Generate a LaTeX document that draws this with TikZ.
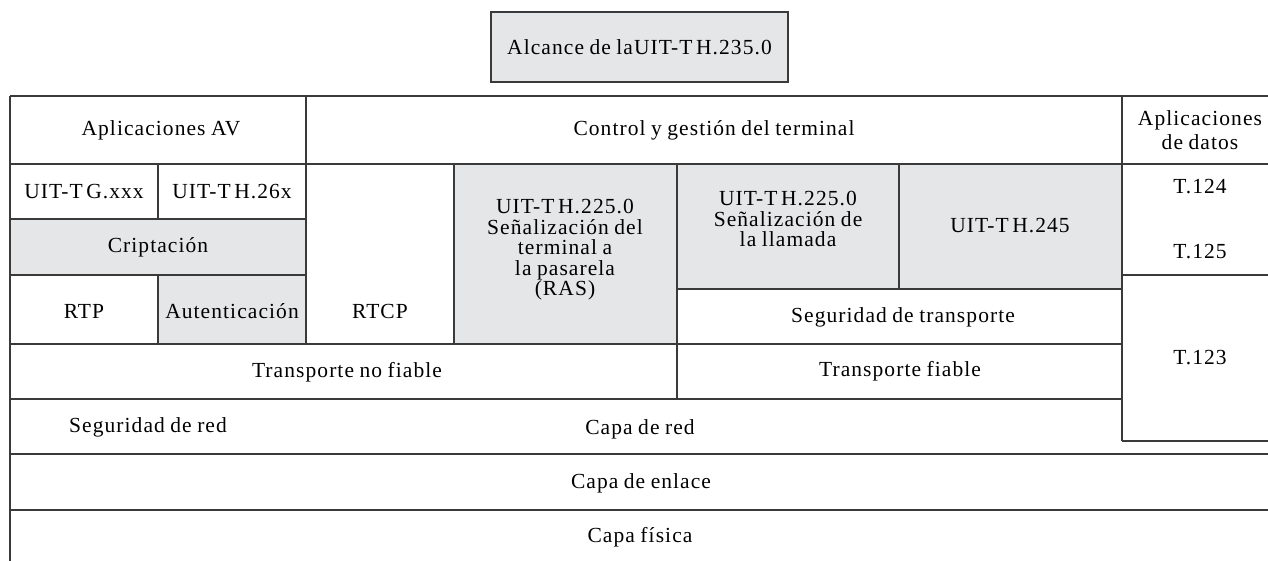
\documentclass[tikz,border=0pt]{standalone}
\usepackage{fontspec}
\setmainfont{Liberation Serif}[LetterSpace=5,WordSpace=0.85]
\definecolor{cellgray}{HTML}{E5E6E8}
\definecolor{linec}{HTML}{3A3A3A}
\begin{document}
\begin{tikzpicture}[x=1pt,y=-1pt,
  rule/.style={draw=linec,line width=1.2pt},
  lbl/.style={inner sep=0pt,align=center,font=\fontsize{21.5}{20.5}\selectfont,text=black},
  shade/.style={fill=cellgray}]
\useasboundingbox (0,0) rectangle (1268,561);
\clip (0,0) rectangle (1268,561);
% fills
\fill[shade] (491,12) rectangle (788,82);
\fill[shade] (10,219) rectangle (306,275);
\fill[shade] (158,275) rectangle (306,344);
\fill[shade] (454,164) rectangle (677,344);
\fill[shade] (677,164) rectangle (899,289);
\fill[shade] (899,164) rectangle (1122,289);
% lines
\draw[rule] (491,12) rectangle (788,82);
\draw[rule] (10,96) -- (1280,96);
\draw[rule] (10,164) -- (1280,164);
\draw[rule] (10,219) -- (306,219);
\draw[rule] (10,275) -- (306,275);
\draw[rule] (1122,275) -- (1280,275);
\draw[rule] (677,289) -- (1122,289);
\draw[rule] (10,344) -- (1122,344);
\draw[rule] (10,399) -- (1122,399);
\draw[rule] (1122,441) -- (1280,441);
\draw[rule] (10,454) -- (1280,454);
\draw[rule] (10,510) -- (1280,510);
\draw[rule] (10,96) -- (10,570);
\draw[rule] (306,96) -- (306,344);
\draw[rule] (158,164) -- (158,219);
\draw[rule] (158,275) -- (158,344);
\draw[rule] (454,164) -- (454,344);
\draw[rule] (677,164) -- (677,399);
\draw[rule] (899,164) -- (899,289);
\draw[rule] (1122,96) -- (1122,441);
% texts
\node[lbl] (scope) at (639.5,47) {Alcance de laUIT-T\,H.235.0};
\node[lbl] (avapp) at (161,130) {Aplicaciones AV};
\node[lbl] (ctrl) at (714,130) {Control y gestión del terminal};
\node[lbl,font=\fontsize{21.5}{24}\selectfont] (data) at (1200,130) {Aplicaciones\\de datos};
\node[lbl] (gxxx) at (84,192) {UIT-T\,G.xxx};
\node[lbl] (h26x) at (232,192) {UIT-T\,H.26x};
\node[lbl] (cript) at (158,247) {Criptación};
\node[lbl] (rtp) at (84,311) {RTP};
\node[lbl] (auth) at (232,311) {Autenticación};
\node[lbl] (rtcp) at (380,311) {RTCP};
\node[lbl] (ras) at (565,250) {UIT-T\,H.225.0\\Señalización del\\terminal a\\la pasarela\\(RAS)};
\node[lbl] (call) at (788,219) {UIT-T\,H.225.0\\Señalización de\\la llamada};
\node[lbl] (h245) at (1010,226) {UIT-T\,H.245};
\node[lbl] (t124) at (1200,187) {T.124};
\node[lbl] (t125) at (1200,252) {T.125};
\node[lbl] (t123) at (1200,358) {T.123};
\node[lbl] (segtr) at (903,317) {Seguridad de transporte};
\node[lbl] (tnf) at (347,372) {Transporte no fiable};
\node[lbl] (tf) at (900,371) {Transporte fiable};
\node[lbl] (segred) at (148,427) {Seguridad de red};
\node[lbl] (red) at (640,429) {Capa de red};
\node[lbl] (enl) at (641,483) {Capa de enlace};
\node[lbl] (fis) at (640,537) {Capa física};
\end{tikzpicture}
\end{document}
